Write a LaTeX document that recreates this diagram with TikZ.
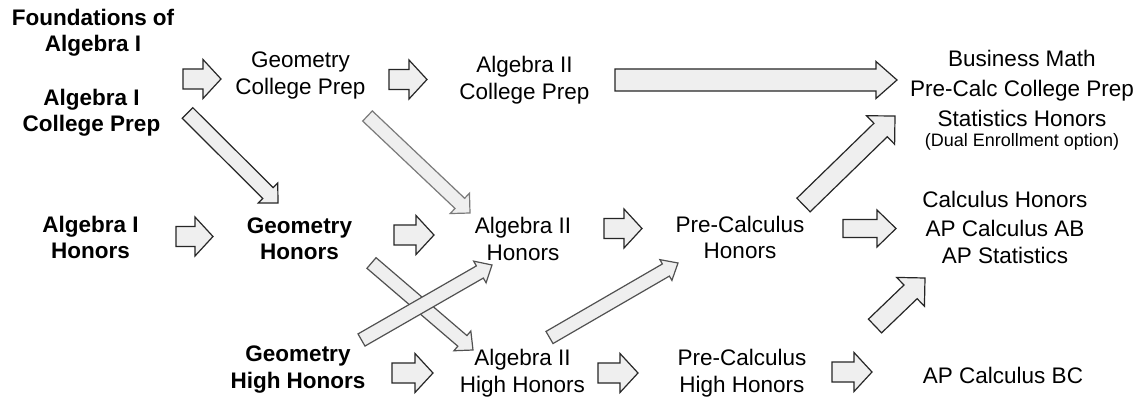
\documentclass[tikz,border=0pt]{standalone}
\usepackage{fontspec}
\setmainfont{Liberation Sans}
\usetikzlibrary{calc}
\definecolor{afill}{HTML}{EFEFEF}
\definecolor{aline}{HTML}{262626}
\definecolor{alinelight}{HTML}{7A7A7A}
\tikzset{
  blk/.style={draw=aline, fill=afill, line width=1.2pt, line join=miter},
  lbl/.style={align=center, inner sep=0pt, anchor=base, font=\fontsize{22.5}{27}\selectfont},
  blbl/.style={align=center, inner sep=0pt, anchor=base, font=\fontsize{22.5}{26.5}\selectfont\bfseries},
}
% #1 options, #2 tail, #3 tip, #4 shaft half width, #5 head half width, #6 head length
\newcommand\blockarr[6][]{%
  \draw[blk,#1] let \p1=($(#3)-(#2)$), \n1={atan2(\y1,\x1)}, \n2={veclen(\x1,\y1)} in
    (#2) ++(\n1+90:#4) -- ++(\n1:\n2-#6) -- ++(\n1+90:#5-#4) -- (#3)
    -- ($(#3)+(\n1+180:#6)+(\n1-90:#5)$) -- ++(\n1+90:#5-#4)
    -- ($(#2)+(\n1-90:#4)$) -- cycle;}
\begin{document}
\begin{tikzpicture}[x=1pt,y=-1pt]
\useasboundingbox (0,0) rectangle (1141,398);
\fill[white] (0,0) rectangle (1141,398);

% course nodes (anchor = baseline of the last line)
\node[blbl] (fa)   at (93,52)    {Foundations of\\Algebra I};
\node[blbl] (acp)  at (91.5,132) {Algebra I\\College Prep};
\node[blbl] (ah)   at (90.5,259) {Algebra I\\Honors};
\node[lbl]  (gcp)  at (300.5,94.5) {Geometry\\College Prep};
\node[blbl] (gh)   at (299.5,260){Geometry\\Honors};
\node[blbl] (ghh)  at (298,388)  {Geometry\\High Honors};
\node[lbl]  (a2cp) at (524.5,100) {Algebra II\\College Prep};
\node[lbl]  (a2h)  at (523,261)  {Algebra II\\Honors};
\node[lbl]  (a2hh) at (522.5,392){Algebra II\\High Honors};
\node[lbl]  (pch)  at (740,259)  {Pre-Calculus\\Honors};
\node[lbl]  (pchh) at (742,392)  {Pre-Calculus\\High Honors};
\node[lbl, font=\fontsize{22.5}{30}\selectfont] (bm) at (1022,147)
  {Business Math\\Pre-Calc College Prep\\Statistics Honors\\[-10pt]{\fontsize{18}{20}\selectfont (Dual Enrollment option)}};
\node[lbl, font=\fontsize{22.5}{28}\selectfont] (ch) at (1005,264)
  {Calculus Honors\\AP Calculus AB\\AP Statistics};
\node[lbl]  (bc)   at (1003,383) {AP Calculus BC};

% arrow end points
\coordinate (t1)  at (183,79);    \coordinate (h1)  at (221,79);
\coordinate (t2)  at (389,79.5);  \coordinate (h2)  at (427,79.5);
\coordinate (t3)  at (615,80);    \coordinate (h3)  at (897,80);
\coordinate (t4)  at (187.5,113); \coordinate (h4)  at (278,203);
\coordinate (t5)  at (367.5,116); \coordinate (h5)  at (470,213);
\coordinate (t6)  at (176,236.5); \coordinate (h6)  at (213,236.5);
\coordinate (t7)  at (394,235);   \coordinate (h7)  at (434,235);
\coordinate (t8)  at (604,228.5); \coordinate (h8)  at (642,228.5);
\coordinate (t9)  at (803.5,205); \coordinate (h9)  at (895,116);
\coordinate (t10) at (843,228.5); \coordinate (h10) at (896,228.5);
\coordinate (t11) at (371.5,263); \coordinate (h11) at (473,350);
\coordinate (t12) at (361.5,340); \coordinate (h12) at (492,265);
\coordinate (t13) at (549.5,337.5); \coordinate (h13) at (678,263);
\coordinate (t14) at (392,373);   \coordinate (h14) at (433,373);
\coordinate (t15) at (598,373);   \coordinate (h15) at (638,373);
\coordinate (t16) at (832,372);   \coordinate (h16) at (872,372);
\coordinate (t17) at (875,326);   \coordinate (h17) at (925,278);

% block arrows
\blockarr{t1}{h1}{10pt}{19.5pt}{18pt}
\blockarr{t2}{h2}{10pt}{19.5pt}{18pt}
\blockarr{t3}{h3}{11pt}{18.5pt}{21pt}
\blockarr{t4}{h4}{7.5pt}{14pt}{14pt}
\blockarr[draw=alinelight]{t5}{h5}{7pt}{14pt}{14pt}
\blockarr{t6}{h6}{10pt}{19.5pt}{18pt}
\blockarr{t7}{h7}{10pt}{19.5pt}{18pt}
\blockarr{t8}{h8}{10pt}{19.5pt}{18pt}
\blockarr{t9}{h9}{9.5pt}{20pt}{20pt}
\blockarr{t10}{h10}{9pt}{18.5pt}{19pt}
\blockarr[draw=aline!80]{t11}{h11}{7pt}{13pt}{14pt}
\blockarr[draw=aline!80]{t12}{h12}{7pt}{12.5pt}{14pt}
\blockarr[draw=aline!80]{t13}{h13}{7pt}{12pt}{14pt}
\blockarr{t14}{h14}{10pt}{19.5pt}{18pt}
\blockarr{t15}{h15}{10pt}{19.5pt}{18pt}
\blockarr{t16}{h16}{10pt}{19.5pt}{18pt}
\blockarr{t17}{h17}{9.5pt}{20pt}{20pt}
\end{tikzpicture}
\end{document}
